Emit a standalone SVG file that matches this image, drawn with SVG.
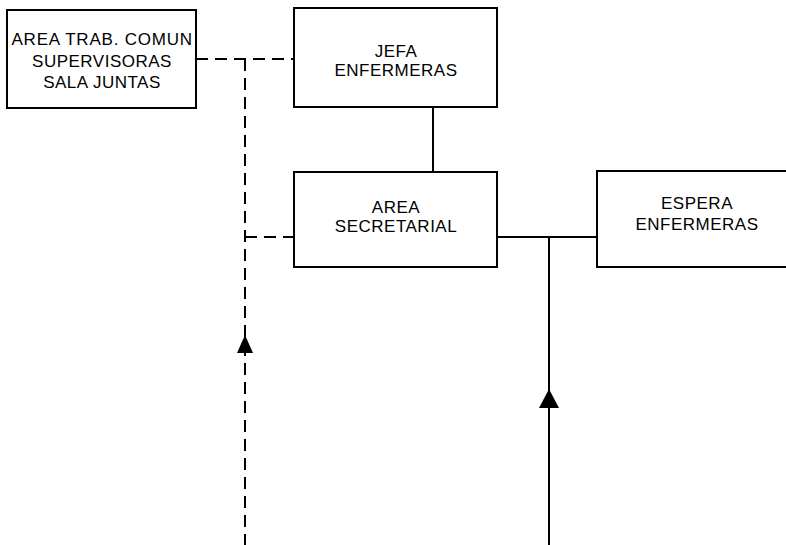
<svg xmlns="http://www.w3.org/2000/svg" width="786" height="545" viewBox="0 0 786 545">
<style>
.box{fill:#fff;stroke:#000;stroke-width:2}
.t{font-family:"Liberation Sans",Arial,sans-serif;font-size:17px;letter-spacing:0.5px;fill:#000;text-anchor:middle}
.s{fill:none;stroke:#000;stroke-width:2}
.d{fill:none;stroke:#000;stroke-width:2;stroke-dasharray:12 7}
</style>
<rect width="786" height="545" fill="#fff"/>
<g id="connectors">
<path class="d" d="M196 59 H293"/>
<path class="d" d="M245 59 V545"/>
<path class="d" d="M245 237 H293"/>
<path class="s" d="M433 107 V172"/>
<path class="s" d="M497 237 H597"/>
<path class="s" d="M549 237 V545"/>
<polygon points="245,335 237,353 253,353" fill="#000"/>
<polygon points="549,389 539,408 559,408" fill="#000"/>
</g>
<g id="area-trab">
<rect class="box" x="7" y="10" width="189" height="98"/>
<text class="t" x="102" y="45" textLength="181" lengthAdjust="spacing">AREA TRAB. COMUN</text>
<text class="t" x="102" y="67">SUPERVISORAS</text>
<text class="t" x="102" y="88">SALA JUNTAS</text>
</g>
<g id="jefa">
<rect class="box" x="294" y="8" width="203" height="99"/>
<text class="t" x="396" y="57">JEFA</text>
<text class="t" x="396" y="76">ENFERMERAS</text>
</g>
<g id="secretarial">
<rect class="box" x="294" y="172" width="203" height="95"/>
<text class="t" x="396" y="213">AREA</text>
<text class="t" x="396" y="232">SECRETARIAL</text>
</g>
<g id="espera">
<path class="s" d="M790 171 H597 V267 H790"/>
<text class="t" x="697" y="209">ESPERA</text>
<text class="t" x="697" y="230">ENFERMERAS</text>
</g>
</svg>
